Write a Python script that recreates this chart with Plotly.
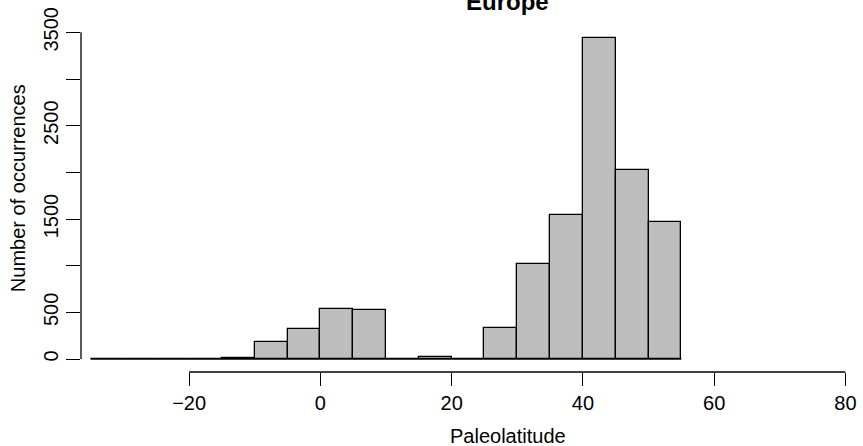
import plotly.graph_objects as go

# Histogram data (5-degree bins)
bin_left = [-35, -30, -25, -20, -15, -10, -5, 0, 5, 10, 15, 20, 25, 30, 35, 40, 45, 50]
counts = [0, 0, 0, 1, 8, 182, 318, 532, 525, 0, 20, 0, 332, 1017, 1546, 3441, 2021, 1464]
bin_width = 5

x_ticks = [-20, 0, 20, 40, 60, 80]
x_ticktext = ["\u221220", "0", "20", "40", "60", "80"]
y_ticks = [0, 500, 1000, 1500, 2000, 2500, 3000, 3500]
y_ticktext = ["0", "500", "", "1500", "", "2500", "", "3500"]

title = "Europe"
x_label = "Paleolatitude"
y_label = "Number of occurrences"

FONT = "Liberation Sans, Arial, Helvetica, sans-serif"
W, H = 863, 446
L, R, T, B = 81, 6, 25, 74
PW, PH = W - L - R, H - T - B

def px_x(px):
    return (px - L) / PW

def px_y(py):
    return (H - B - py) / PH

centers = [b + bin_width / 2 for b in bin_left]

fig = go.Figure()
fig.add_trace(go.Bar(
    x=centers, y=counts, width=[bin_width] * len(centers),
    marker=dict(color="#BEBEBE", line=dict(color="black", width=1.3)),
    hoverinfo="x+y", showlegend=False,
))

shapes = [
    dict(type="line", xref="x", yref="y", x0=bin_left[0], x1=bin_left[-1] + bin_width,
         y0=0, y1=0, line=dict(color="black", width=1.3)),
    dict(type="line", xref="x", yref="paper", x0=x_ticks[0], x1=x_ticks[-1],
         y0=0, y1=0, line=dict(color="black", width=1.3)),
    dict(type="line", xref="paper", yref="y", x0=0, x1=0,
         y0=y_ticks[0], y1=y_ticks[-1], line=dict(color="black", width=1.3)),
]

annotations = [
    dict(text="<b>" + title + "</b>", x=px_x(509), y=px_y(1.5), xref="paper", yref="paper",
         xanchor="center", yanchor="middle", showarrow=False,
         font=dict(family=FONT, size=24, color="black")),
    dict(text=x_label, x=px_x(509), y=px_y(436), xref="paper", yref="paper",
         xanchor="center", yanchor="middle", showarrow=False,
         font=dict(family=FONT, size=20, color="black")),
    dict(text=y_label, x=px_x(18), y=px_y(188), xref="paper", yref="paper",
         xanchor="center", yanchor="middle", showarrow=False, textangle=-90,
         font=dict(family=FONT, size=20, color="black")),
]

x_per_px = 20 / 131.6
y_per_px = 3500 / 326.67
x0_px, y0_px = 321, 359
xr = [(L - x0_px) * x_per_px, (W - R - x0_px) * x_per_px]
yr = [(y0_px - (H - B)) * y_per_px, (y0_px - T) * y_per_px]

fig.update_layout(
    width=W, height=H,
    margin=dict(l=L, r=R, t=T, b=B, pad=0),
    paper_bgcolor="white", plot_bgcolor="white",
    font=dict(family=FONT, size=20, color="black"),
    shapes=shapes, annotations=annotations,
    bargap=0,
    xaxis=dict(range=xr, tickmode="array", tickvals=x_ticks, ticktext=x_ticktext,
               ticks="outside", ticklen=13, tickwidth=1.3, tickcolor="black",
               showline=False, showgrid=False, zeroline=False,
               tickfont=dict(family=FONT, size=20, color="black")),
    yaxis=dict(range=yr, tickmode="array", tickvals=y_ticks, ticktext=y_ticktext,
               ticks="outside", ticklen=14, tickwidth=1.3, tickcolor="black",
               tickangle=-90,
               showline=False, showgrid=False, zeroline=False,
               tickfont=dict(family=FONT, size=20, color="black")),
)

fig.write_html("out.html", config={"displayModeBar": False},
               post_script="document.body.style.margin='0';document.body.style.overflow='hidden';")
